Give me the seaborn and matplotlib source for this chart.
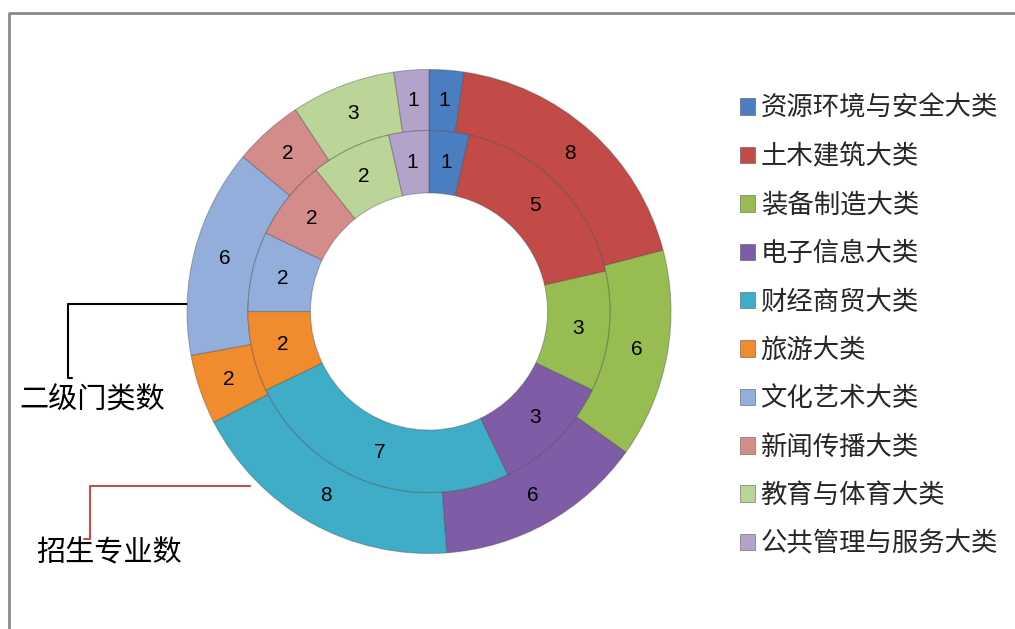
import matplotlib
matplotlib.use("Agg")
import matplotlib.pyplot as plt
import seaborn as sns
import numpy as np
from matplotlib.patches import Rectangle

categories = ["资源环境与安全大类", "土木建筑大类", "装备制造大类", "电子信息大类", "财经商贸大类",
              "旅游大类", "文化艺术大类", "新闻传播大类", "教育与体育大类", "公共管理与服务大类"]
inner_values = [1, 5, 3, 3, 7, 2, 2, 2, 2, 1]   # 二级门类数
outer_values = [1, 8, 6, 6, 8, 2, 6, 2, 3, 1]   # 招生专业数
inner_name = "二级门类数"
outer_name = "招生专业数"

colors = ["#4A7EC0", "#C24B48", "#97BC52", "#7F5CA6", "#40ADC8",
          "#F08C2E", "#93AEDA", "#D38C8A", "#BAD597", "#B3A3CB"]

sns.set_theme(style="white")
plt.rcParams["font.family"] = ["Noto Sans CJK SC", "DejaVu Sans"]

W, H = 1015, 629
fig = plt.figure(figsize=(W / 100, H / 100), dpi=100)

# overlay axes in pixel coordinates for frame and callouts
ov = fig.add_axes([0, 0, 1, 1])
ov.set_xlim(0, W)
ov.set_ylim(H, 0)
ov.axis("off")
ov.plot([9, 9, W], [H, 13, 13], color="#8A8A8A", lw=2, solid_capstyle="butt")

# donut axes
cx, cy, R = 429, 311.5, 242
ax = fig.add_axes([(cx - R) / W, (H - cy - R) / H, 2 * R / W, 2 * R / H])
ax.axis("off")

r_out, r_mid, r_in = 1.0, 0.748, 0.49
edge = dict(edgecolor=(0.25, 0.25, 0.25, 0.35), linewidth=0.8)
outer_w, _ = ax.pie(outer_values, radius=r_out, colors=colors, startangle=90,
                    counterclock=False, wedgeprops=dict(width=r_out - r_mid, **edge))
inner_w, _ = ax.pie(inner_values, radius=r_mid, colors=colors, startangle=90,
                    counterclock=False, wedgeprops=dict(width=r_mid - r_in, **edge))
ax.set_xlim(-1, 1)
ax.set_ylim(-1, 1)
ax.set_aspect("auto")


def label_ring(wedges, values, radius):
    for w, v in zip(wedges, values):
        ang = np.deg2rad((w.theta1 + w.theta2) / 2)
        ax.text(radius * np.cos(ang), radius * np.sin(ang), str(v),
                ha="center", va="center", fontsize=15, color="black",
                family=["Liberation Sans", "DejaVu Sans"])


label_ring(outer_w, outer_values, (r_out + r_mid) / 2)
label_ring(inner_w, inner_values, (r_mid + r_in) / 2)

# callouts
ov.plot([256, 68, 68, 72], [304, 304, 378, 378], color="black", lw=1.5)
ov.text(19, 400, inner_name, fontsize=21, va="center", ha="left", color="black")
ov.plot([250, 90, 90, 84], [486, 486, 539, 539], color="#C0504D", lw=1.5)
ov.text(36, 553, outer_name, fontsize=21, va="center", ha="left", color="black")

# legend
handles = [Rectangle((0, 0), 1, 1, facecolor=c, edgecolor=(0.2, 0.2, 0.2, 0.5), lw=0.6) for c in colors]
fig.legend(handles, categories, loc="upper left", bbox_to_anchor=(740 / W, 1 - 95 / H),
           frameon=False, fontsize=19, handlelength=0.58, handleheight=0.58,
           handletextpad=0.2, labelspacing=0.81, borderaxespad=0, borderpad=0)

fig.savefig("out.png", dpi=100)
